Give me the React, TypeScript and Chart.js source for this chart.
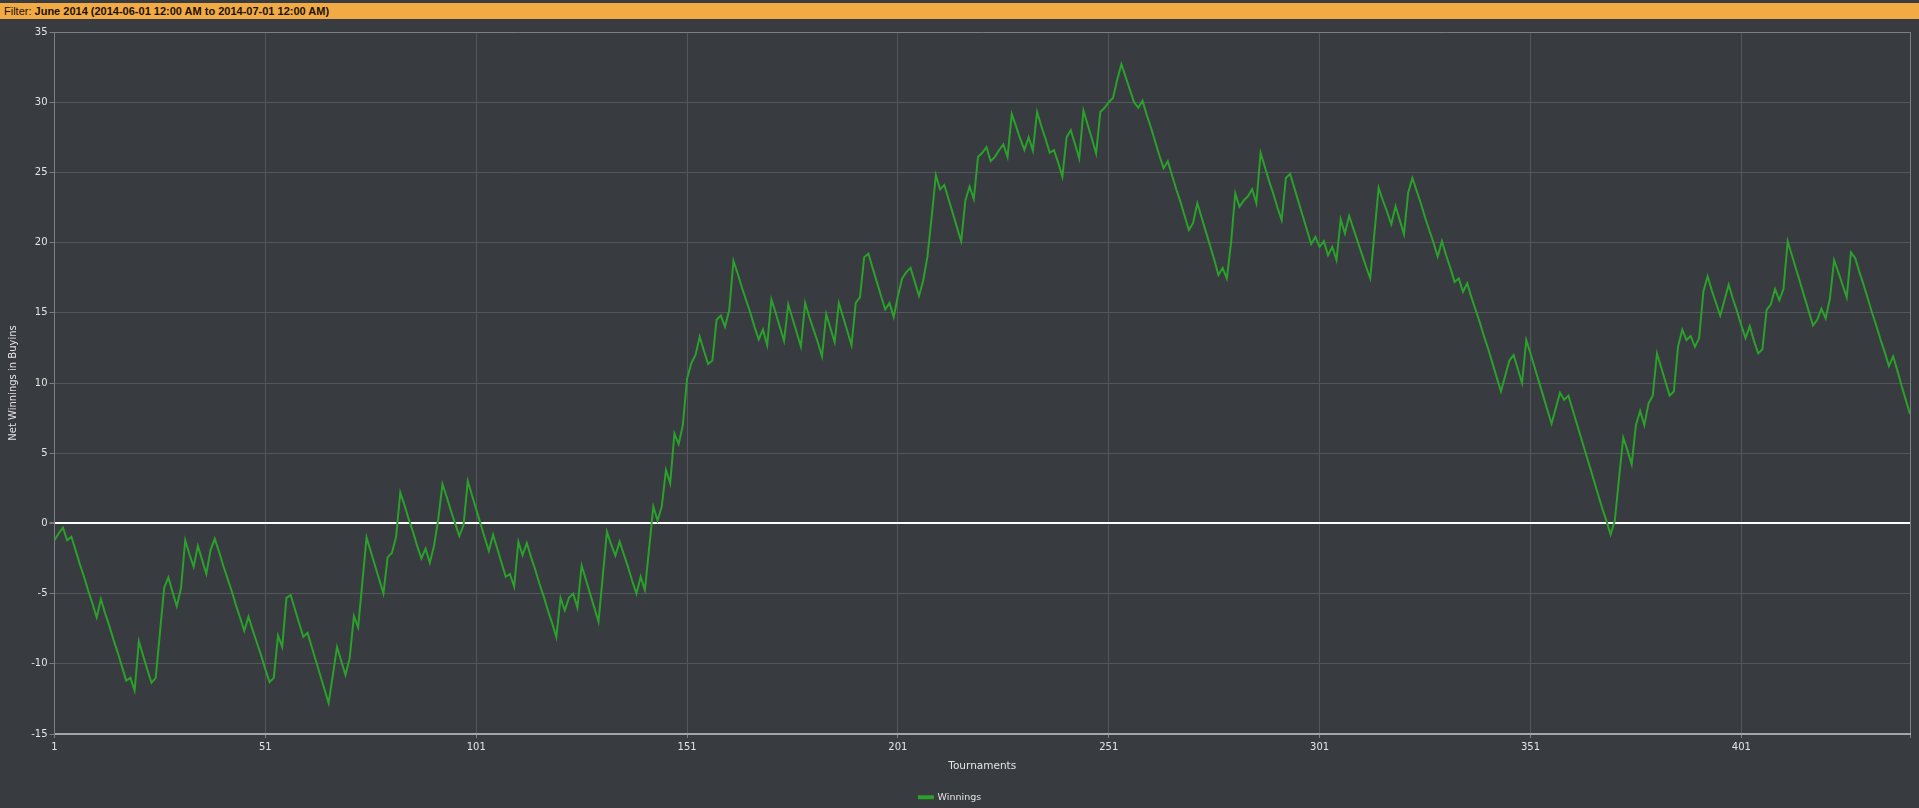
import { useEffect, useRef } from 'react';
import { Chart, registerables } from 'chart.js';

Chart.register(...registerables);

const FILTER_LABEL = 'Filter:';
const FILTER_TEXT = 'June 2014 (2014-06-01 12:00 AM to 2014-07-01 12:00 AM)';
const SERIES_NAME = 'Winnings';
const X_TITLE = 'Tournaments';
const Y_TITLE = 'Net Winnings in Buyins';

const xTickValues = [1, 51, 101, 151, 201, 251, 301, 351, 401];
const X_MIN = 1;
const X_MAX = 441;
const Y_MIN = -15;
const Y_MAX = 35;
const Y_STEP = 5;

// Net winnings (buy-ins) after each tournament, 1..441
const winnings = [
  -1.2, -0.7, -0.3, -1.2, -0.95, -1.9, -2.9, -3.8, -4.8, -5.7,
  -6.7, -5.4, -6.4, -7.3, -8.3, -9.2, -10.2, -11.2, -11.0, -11.9,
  -8.4, -9.4, -10.4, -11.35, -11.0, -7.8, -4.6, -3.85, -4.9, -5.9,
  -4.6, -1.2, -2.2, -3.1, -1.6, -2.6, -3.6, -1.9, -1.1, -2.0,
  -3.0, -3.9, -4.8, -5.8, -6.7, -7.65, -6.65, -7.6, -8.5, -9.4,
  -10.4, -11.3, -11.0, -8.0, -8.8, -5.3, -5.1, -6.1, -7.1, -8.07,
  -7.8, -8.8, -9.8, -10.8, -11.8, -12.8, -10.8, -8.8, -9.8, -10.8,
  -9.6, -6.6, -7.4, -4.2, -1.0, -2.0, -3.0, -4.0, -5.0, -2.4,
  -2.1, -0.95, 2.2, 1.3, 0.3, -0.6, -1.6, -2.5, -1.8, -2.8,
  -1.6, 0.3, 2.8, 1.9, 0.9, 0.0, -0.9, -0.1, 3.0, 2.0,
  1.0, 0.0, -1.0, -1.95, -0.8, -1.8, -2.8, -3.8, -3.6, -4.5,
  -1.3, -2.25, -1.4, -2.4, -3.3, -4.3, -5.2, -6.2, -7.1, -8.1,
  -5.3, -6.2, -5.3, -5.0, -6.0, -3.0, -4.0, -5.0, -6.0, -7.0,
  -3.8, -0.6, -1.5, -2.3, -1.3, -2.2, -3.1, -4.1, -5.0, -3.8,
  -4.75, -1.8, 1.2, 0.2, 1.2, 3.8, 2.85, 6.4, 5.65, 7.0,
  10.3, 11.4, 12.0, 13.3, 12.3, 11.35, 11.6, 14.5, 14.8, 14.0,
  15.2, 18.7, 17.8, 16.8, 15.9, 15.0, 14.0, 13.1, 13.8, 12.7,
  15.95, 15.0, 14.0, 13.0, 15.6, 14.6, 13.6, 12.6, 15.7, 14.7,
  13.8, 12.9, 11.9, 14.9, 13.9, 12.9, 15.7, 14.7, 13.7, 12.7,
  15.7, 16.1, 18.95, 19.2, 18.2, 17.2, 16.2, 15.24, 15.7, 14.7,
  16.2, 17.45, 17.9, 18.2, 17.2, 16.2, 17.3, 19.0, 21.8, 24.8,
  23.8, 24.1, 23.1, 22.1, 21.1, 20.1, 23.0, 24.0, 23.1, 26.1,
  26.4, 26.8, 25.8, 26.1, 26.6, 27.0, 26.1, 29.15, 28.3, 27.4,
  26.6, 27.5, 26.55, 29.3, 28.3, 27.4, 26.4, 26.6, 25.7, 24.7,
  27.5, 28.0, 27.0, 26.0, 29.4, 28.4, 27.4, 26.35, 29.3, 29.6,
  30.0, 30.3, 31.6, 32.7, 31.8, 30.9, 30.0, 29.6, 30.1, 29.1,
  28.2, 27.2, 26.2, 25.3, 25.8, 24.8, 23.8, 22.9, 21.9, 20.9,
  21.4, 22.8, 21.8, 20.8, 19.8, 18.8, 17.7, 18.2, 17.45, 20.0,
  23.5, 22.55, 23.0, 23.3, 23.8, 22.8, 26.4, 25.4, 24.4, 23.5,
  22.5, 21.6, 24.6, 24.9, 23.9, 22.9, 21.9, 20.9, 19.9, 20.4,
  19.7, 20.1, 19.1, 19.7, 18.75, 21.65, 20.65, 21.9, 21.0, 20.1,
  19.2, 18.3, 17.45, 20.7, 23.9, 23.0, 22.2, 21.3, 22.6, 21.6,
  20.6, 23.55, 24.6, 23.7, 22.8, 21.8, 20.9, 20.0, 19.0, 20.1,
  19.1, 18.2, 17.2, 17.45, 16.5, 17.1, 16.1, 15.2, 14.3, 13.3,
  12.4, 11.4, 10.4, 9.4, 10.5, 11.6, 12.0, 11.0, 10.0, 13.06,
  12.1, 11.1, 10.1, 9.1, 8.1, 7.1, 8.2, 9.3, 8.8, 9.1,
  8.1, 7.1, 6.1, 5.1, 4.1, 3.1, 2.1, 1.1, 0.2, -0.8,
  0.2, 3.2, 6.1, 5.2, 4.2, 7.0, 8.0, 7.0, 8.55, 9.1,
  12.1, 11.1, 10.1, 9.1, 9.4, 12.6, 13.8, 13.06, 13.35, 12.58,
  13.2, 16.5, 17.6, 16.6, 15.7, 14.8, 15.9, 17.0, 16.0, 15.1,
  14.1, 13.2, 14.05, 13.0, 12.1, 12.4, 15.2, 15.6, 16.7, 15.9,
  16.7, 20.1, 19.1, 18.1, 17.1, 16.1, 15.1, 14.1, 14.5, 15.3,
  14.6, 16.0, 18.75, 17.9, 17.0, 16.1, 19.3, 18.9, 17.9, 17.0,
  16.0, 15.0, 14.1, 13.1, 12.2, 11.2, 11.9, 10.9, 9.8, 8.8,
  7.8,
];

const BG = '#383b3f';
const GRID = '#53565a';
const EDGE = '#7b7e82';
const TEXT = '#e4e4e4';
const LINE = '#2aa12a';
const FONT = '"DejaVu Sans", Verdana, sans-serif';

// nudges the bottom legend a few pixels left, as in the reference
const legendShift = {
  id: 'legendShift',
  afterLayout(chart: any) {
    if (chart.legend) {
      chart.legend.left -= 5;
      chart.legend.right -= 5;
    }
  },
};

export default function App() {
  const canvasRef = useRef<HTMLCanvasElement | null>(null);

  useEffect(() => {
    document.body.style.margin = '0';
    document.body.style.background = BG;
    const canvas = canvasRef.current;
    if (!canvas) return;

    const points = winnings.map((v, i) => ({ x: X_MIN + i, y: v }));

    const chart = new Chart(canvas, {
      type: 'line',
      data: {
        datasets: [
          {
            label: SERIES_NAME,
            data: points,
            borderColor: LINE,
            backgroundColor: LINE,
            borderWidth: 2,
            pointRadius: 0,
            pointHoverRadius: 0,
            tension: 0,
            fill: false,
          },
        ],
      },
      plugins: [legendShift],
      options: {
        animation: false,
        responsive: false,
        maintainAspectRatio: false,
        events: [],
        layout: { padding: { top: 13, right: 9, left: 0, bottom: 0 } },
        plugins: {
          tooltip: { enabled: false },
          legend: {
            display: true,
            position: 'bottom',
            labels: {
              color: TEXT,
              boxWidth: 14,
              boxHeight: 2,
              padding: 6,
              font: { family: FONT, size: 9.5 },
            },
          },
        },
        scales: {
          x: {
            type: 'linear',
            min: X_MIN,
            max: X_MAX,
            afterBuildTicks: (axis: any) => {
              axis.ticks = [...xTickValues, X_MAX].map((value) => ({ value }));
            },
            afterFit: (scale: any) => {
              scale.height = 52.5;
            },
            ticks: {
              color: TEXT,
              autoSkip: false,
              maxRotation: 0,
              padding: 3,
              font: { family: FONT, size: 10 },
              callback: (value: any) => (xTickValues.includes(Number(value)) ? String(value) : ''),
            },
            grid: {
              color: (ctx: any) => (ctx.tick && ctx.tick.value === X_MAX ? EDGE : GRID),
              tickColor: EDGE,
              tickLength: 4,
              lineWidth: 1,
            },
            border: { color: '#a4a6a9', width: 2 },
            title: {
              display: true,
              text: X_TITLE,
              color: TEXT,
              font: { family: FONT, size: 10.5 },
              padding: { top: 6, bottom: 14 },
            },
          },
          y: {
            type: 'linear',
            min: Y_MIN,
            max: Y_MAX,
            afterFit: (scale: any) => {
              scale.width = 54.5;
            },
            ticks: {
              stepSize: Y_STEP,
              color: TEXT,
              padding: 2,
              font: { family: FONT, size: 10 },
            },
            grid: {
              color: (ctx: any) => {
                const v = ctx.tick ? ctx.tick.value : null;
                if (v === 0) return '#ffffff';
                if (v === Y_MAX) return EDGE;
                return GRID;
              },
              lineWidth: (ctx: any) => (ctx.tick && ctx.tick.value === 0 ? 2 : 1),
              tickColor: EDGE,
              tickLength: 5,
            },
            border: { color: EDGE, width: 1 },
            title: {
              display: true,
              text: Y_TITLE,
              color: TEXT,
              font: { family: FONT, size: 10 },
              padding: { top: 7, bottom: 0 },
            },
          },
        },
      },
    });

    return () => {
      chart.destroy();
    };
  }, []);

  return (
    <div style={{ position: 'relative', width: 1919, height: 808, background: BG, overflow: 'hidden' }}>
      <div
        style={{
          position: 'absolute',
          top: 3,
          left: 0,
          width: 1919,
          height: 16,
          background: '#f2aa45',
          color: '#1a1206',
          fontFamily: '"Liberation Sans", Arial, sans-serif',
          fontSize: 11,
          lineHeight: '16px',
          paddingLeft: 4,
          boxSizing: 'border-box',
          whiteSpace: 'nowrap',
        }}
      >
        <span>{FILTER_LABEL} </span>
        <span style={{ fontWeight: 'bold' }}>{FILTER_TEXT}</span>
      </div>
      <canvas
        ref={canvasRef}
        width={1919}
        height={793}
        style={{ position: 'absolute', top: 19, left: 0, width: 1919, height: 793 }}
      />
    </div>
  );
}
